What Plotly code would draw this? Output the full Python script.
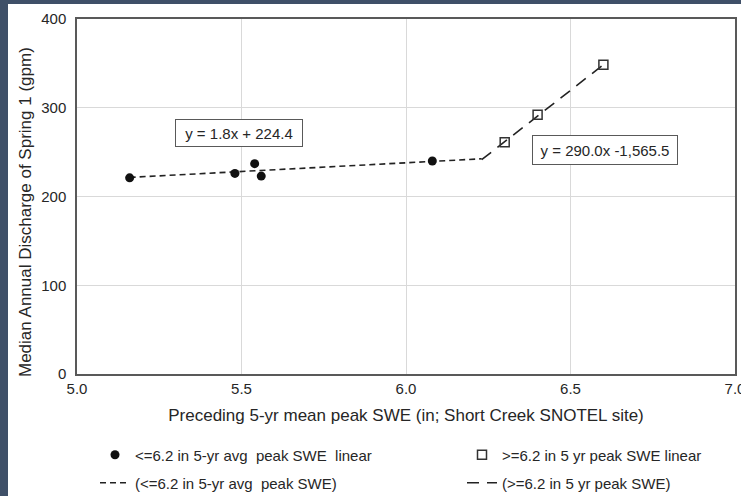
import plotly.graph_objects as go

# ---- data ----
low_x = [5.16, 5.48, 5.54, 5.56, 6.08]
low_y = [221, 226, 237, 223, 240]
high_x = [6.30, 6.40, 6.60]
high_y = [261, 292, 348.5]
low_fit_x = [5.16, 6.23]
low_fit_y = [221.5, 242.5]
high_fit_x = [6.23, 6.60]
high_fit_y = [241.5, 348.5]
x_ticks = [5.0, 5.5, 6.0, 6.5, 7.0]
y_ticks = [0, 100, 200, 300, 400]

FONT = "Liberation Sans, Arial, sans-serif"
INK = "#262626"
W, H = 741, 496
L, T, PW, PH = 77, 19, 658, 355

fig = go.Figure()
fig.add_trace(go.Scatter(
    x=low_fit_x, y=low_fit_y, mode="lines",
    name="(<=6.2 in 5-yr avg  peak SWE)",
    line=dict(color="#222222", width=1.6, dash="6px,4px"),
    legend="legend3"))
fig.add_trace(go.Scatter(
    x=high_fit_x, y=high_fit_y, mode="lines",
    name="(>=6.2 in 5 yr peak SWE)",
    line=dict(color="#222222", width=1.6, dash="12px,8px"),
    legend="legend4"))
fig.add_trace(go.Scatter(
    x=low_x, y=low_y, mode="markers",
    name="<=6.2 in 5-yr avg  peak SWE  linear",
    marker=dict(symbol="circle", size=9, color="#111111"),
    legend="legend"))
fig.add_trace(go.Scatter(
    x=high_x, y=high_y, mode="markers",
    name=">=6.2 in 5 yr peak SWE linear",
    marker=dict(symbol="square-open", size=9, color="#333333",
                line=dict(width=1.5, color="#333333")),
    legend="legend2"))

fig.add_annotation(x=5.492, y=271.5, xref="x", yref="y",
                   text="y = 1.8x + 224.4", showarrow=False,
                   font=dict(family=FONT, size=15, color=INK),
                   bgcolor="white", bordercolor="#595959", borderwidth=1,
                   width=124, height=24, borderpad=1)
fig.add_annotation(x=6.605, y=252.5, xref="x", yref="y",
                   text="y = 290.0x -1,565.5", showarrow=False,
                   font=dict(family=FONT, size=15, color=INK),
                   bgcolor="white", bordercolor="#595959", borderwidth=1,
                   width=142, height=26, borderpad=1)

# y-axis title (placed as in the reference, slightly below plot centre)
fig.add_annotation(x=(26 - L) / PW, y=(T + PH - 212) / PH,
                   xref="paper", yref="paper", xanchor="center", yanchor="middle",
                   text="Median Annual Discharge of Spring 1 (gpm)",
                   textangle=-90, showarrow=False,
                   font=dict(family=FONT, size=17, color=INK))

# white page over dark frame
fig.add_shape(type="rect", xref="paper", yref="paper", layer="below",
              x0=-(L - 8) / PW, x1=1.2,
              y0=-1.0, y1=1 + (T - 4) / PH,
              fillcolor="white", line=dict(width=0))


def leg(px, py):
    return dict(orientation="h", xref="container", yref="container",
                x=px / W, xanchor="left", y=1 - py / H, yanchor="middle",
                bgcolor="rgba(0,0,0,0)", borderwidth=0,
                font=dict(family=FONT, size=15, color=INK))


fig.update_layout(
    width=W, height=H,
    margin=dict(l=L, r=W - L - PW, t=T, b=H - T - PH, autoexpand=False),
    paper_bgcolor="#3f5068",
    plot_bgcolor="white",
    font=dict(family=FONT, size=15, color=INK),
    showlegend=True,
    legend=leg(95, 455),
    legend2=leg(462, 455),
    legend3=leg(95, 483),
    legend4=leg(462, 483),
)
fig.update_xaxes(range=[5.0, 7.0], tickvals=x_ticks,
                 ticktext=[f"{v:.1f}" for v in x_ticks],
                 showgrid=True, gridcolor="#d9d9d9", gridwidth=1,
                 showline=True, linecolor="#595959", linewidth=1.5, mirror=True,
                 ticks="", zeroline=False, ticklabeloverflow="allow",
                 tickfont=dict(size=15),
                 title=dict(text="Preceding 5-yr mean peak SWE (in; Short Creek SNOTEL site)",
                            font=dict(size=17), standoff=13))
fig.update_yaxes(range=[0, 400], tickvals=y_ticks,
                 showgrid=True, gridcolor="#d9d9d9", gridwidth=1,
                 showline=True, linecolor="#595959", linewidth=1.5, mirror=True,
                 ticks="", zeroline=False,
                 tickfont=dict(size=15), ticklabelstandoff=6)

fig.write_html("out.html")
